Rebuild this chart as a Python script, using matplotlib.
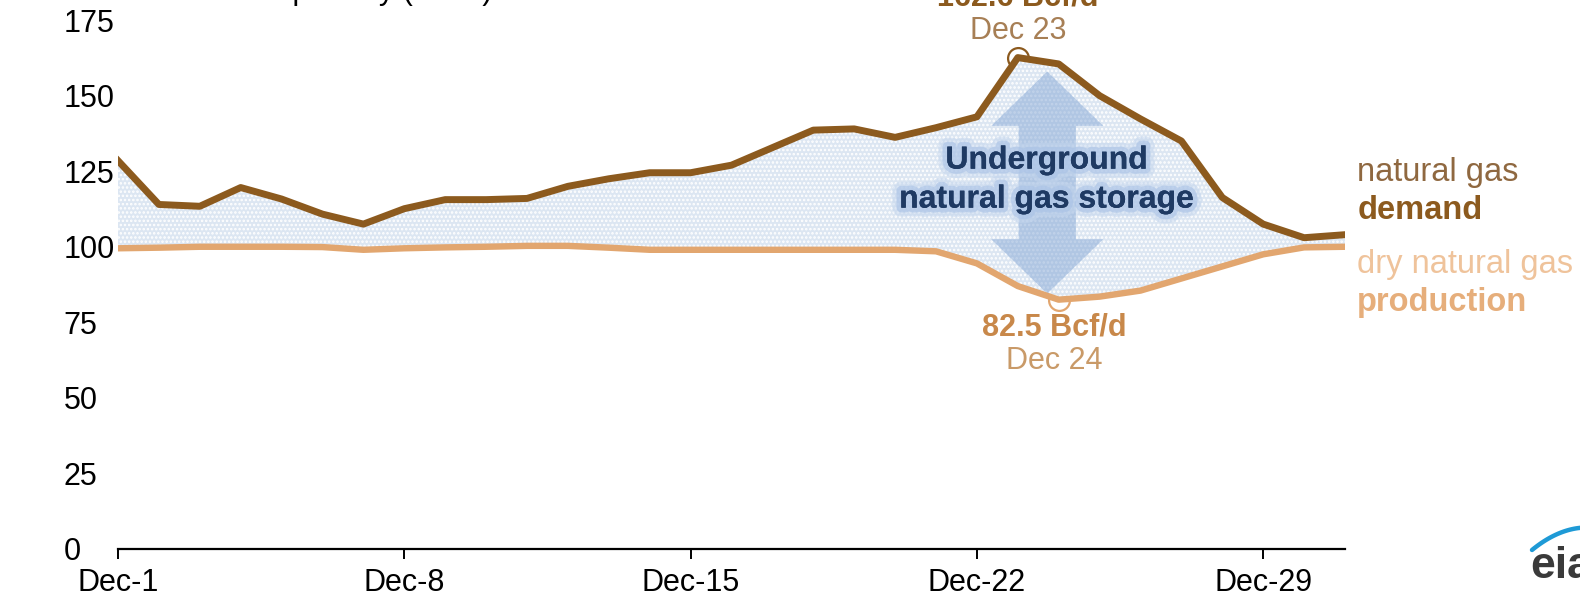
import numpy as np
import matplotlib
matplotlib.use('Agg')
import matplotlib.pyplot as plt
from matplotlib.patches import Polygon
import matplotlib.patheffects as pe

# ---------------- data ----------------
days = list(range(1, 32))
demand = [128.5, 114.0, 113.4, 119.6, 115.8, 110.8, 107.5, 112.6, 115.6, 115.6,
          116.0, 120.0, 122.5, 124.5, 124.5, 127.0, 132.8, 138.6, 139.0, 136.2,
          139.4, 143.0, 162.6, 160.5, 150.0, 142.3, 135.0, 116.3, 107.5, 103.0, 104.0]
production = [99.5, 99.7, 100.0, 100.0, 100.0, 99.9, 99.0, 99.5, 99.8, 100.0,
              100.3, 100.3, 99.7, 99.0, 99.0, 99.0, 99.0, 99.0, 99.0, 99.0,
              98.5, 94.5, 87.0, 82.5, 83.5, 85.5, 89.5, 93.5, 97.5, 99.8, 100.0]
tick_days = [1, 8, 15, 22, 29]
tick_labels = ['Dec-1', 'Dec-8', 'Dec-15', 'Dec-22', 'Dec-29']
y_ticks = [0, 25, 50, 75, 100, 125, 150, 175]
peak_day, peak_val = 23, 162.6
low_day, low_val = 24, 82.5

# ---------------- style ----------------
plt.rcParams['font.family'] = ['Liberation Sans', 'DejaVu Sans']
plt.rcParams['hatch.linewidth'] = 1.2

DEMAND_C = '#8c5a1e'
PROD_C = '#e2a66f'
FILL_C = '#dce6f2'
NAVY = '#1f3a63'

fig = plt.figure(figsize=(15.8, 6.03), dpi=100)
ax = fig.add_axes([118 / 1580, 54 / 603, 1227 / 1580, 544 / 603])
ax.set_xlim(1, 31)
ax.set_ylim(0, 180)

# storage area
ax.fill_between(days, production, demand, facecolor=FILL_C, linewidth=0, zorder=2)
ax.fill_between(days, production, demand, facecolor='none', edgecolor='white',
                hatch='....', linewidth=0, zorder=2.1)

# double-headed arrow (annotation)
acx, atop, abot = 23.72, 158.0, 84.5
shaft_hw, head_hw, head_len = 0.70, 1.37, 18.0
arrow_pts = [
    (acx, atop), (acx + head_hw, atop - head_len), (acx + shaft_hw, atop - head_len),
    (acx + shaft_hw, abot + head_len), (acx + head_hw, abot + head_len), (acx, abot),
    (acx - head_hw, abot + head_len), (acx - shaft_hw, abot + head_len),
    (acx - shaft_hw, atop - head_len), (acx - head_hw, atop - head_len)]
ax.add_patch(Polygon(arrow_pts, closed=True, facecolor='#86a8d6', alpha=0.5,
                     edgecolor='none', zorder=2.5))

# circle markers (beneath lines and fill)
ax.plot([peak_day], [peak_val], 'o', ms=15, mfc='none', mec=DEMAND_C, mew=1.6, zorder=1.5)
ax.plot([low_day], [low_val], 'o', ms=15, mfc='none', mec=PROD_C, mew=1.6, zorder=1.5)

# lines
ax.plot(days, production, color=PROD_C, lw=4.6, zorder=4, solid_joinstyle='round')
ax.plot(days, demand, color=DEMAND_C, lw=5.0, zorder=4.1, solid_joinstyle='round')

# axes styling
for s in ['left', 'top', 'right']:
    ax.spines[s].set_visible(False)
ax.spines['bottom'].set_linewidth(1.6)
ax.spines['bottom'].set_color('black')
ax.set_xticks(tick_days)
ax.set_xticklabels(tick_labels)
ax.set_yticks(y_ticks)
ax.set_yticklabels([str(v) for v in y_ticks])
ax.tick_params(axis='x', direction='out', length=7, width=1.4, color='black',
               labelsize=22, pad=7, labelcolor='black')
ax.tick_params(axis='y', length=0, labelsize=22, pad=39, labelcolor='black')
for lab in ax.get_yticklabels():
    lab.set_horizontalalignment('left')

# annotations
ax.text(peak_day, 182.6, '162.6 Bcf/d', ha='center', va='center', fontsize=22,
        fontweight='bold', color=DEMAND_C, clip_on=False)
ax.text(peak_day, 171.5, 'Dec 23', ha='center', va='center', fontsize=22,
        color='#a77f55', clip_on=False)
ax.text(23.9, 73.4, '82.5 Bcf/d', ha='center', va='center', fontsize=22,
        fontweight='bold', color='#c8884a')
ax.text(23.9, 62.3, 'Dec 24', ha='center', va='center', fontsize=22,
        color='#c99a68')

glow = [pe.withStroke(linewidth=13, foreground='#c4d6ee', alpha=0.5),
        pe.withStroke(linewidth=7, foreground='#a9c2e6', alpha=0.6),
        pe.Normal()]
ax.text(23.7, 128.5, 'Underground', ha='center', va='center', fontsize=23,
        fontweight='bold', color=NAVY, zorder=5, path_effects=glow)
ax.text(23.7, 115.6, 'natural gas storage', ha='center', va='center', fontsize=23,
        fontweight='bold', color=NAVY, zorder=5, path_effects=glow)

# right-side series labels
ax.text(31.3, 124.5, 'natural gas', ha='left', va='center', fontsize=23.5,
        color='#8f6840', clip_on=False)
ax.text(31.3, 112.0, 'demand', ha='left', va='center', fontsize=23.5,
        fontweight='bold', color=DEMAND_C, clip_on=False)
ax.text(31.3, 94.3, 'dry natural gas', ha='left', va='center', fontsize=23.5,
        color='#efc39b', clip_on=False)
ax.text(31.3, 81.5, 'production', ha='left', va='center', fontsize=23.5,
        fontweight='bold', color='#e6ae7b', clip_on=False)

# cut-off axis title at the very top
fig.text(68 / 1580, 1 + 1.5 / 603, 'billion cubic feet per day (Bcf/d)', ha='left',
         va='baseline', fontsize=22, color='black')

# partial eia logo in the corner
fig.text(1530 / 1580, 25 / 603, 'eia', ha='left', va='baseline', fontsize=32,
         fontweight='bold', color='#3a3a3a')
lax = fig.add_axes([1525 / 1580, 48 / 603, 55 / 1580, 30 / 603])
lax.set_xlim(0, 55)
lax.set_ylim(0, 30)
lax.axis('off')
t = np.linspace(0, 1, 40)
lax.plot(7 + 55 * t, 5 + 30 * (1 - (1 - t) ** 2) * 0.75, color='#1e9ad6', lw=3.2,
         solid_capstyle='round')

fig.savefig('out.png', dpi=100)
